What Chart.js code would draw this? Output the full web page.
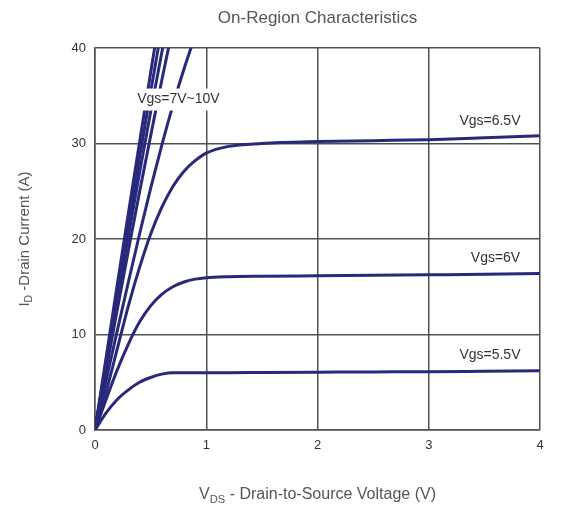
<!DOCTYPE html>
<html lang="en">
<head>
    <meta charset="UTF-8">
    <title>On-Region Characteristics</title>
    <style>
        body {
            margin: 0;
            padding: 0;
            background-color: #ffffff;
        }
        .chart-container {
            width: 563px;
            height: 511px;
        }
    </style>
</head>
<body>
    <div class="chart-container">
        <canvas id="onRegionChart"></canvas>
    </div>

    <script src="https://cdn.jsdelivr.net/npm/chart.js"></script>
    <script>
        // saturating curves (Vgs = 5.5V, 6V, 6.5V)
        const vdsSat = [0, 0.1, 0.2, 0.3, 0.4, 0.5, 0.6, 0.7, 0.8, 0.9, 1.0, 1.2, 1.5, 2, 2.5, 3, 3.5, 4];
        const id65 = [0, 4, 8.5, 13, 17, 20.5, 23.3, 25.5, 27.1, 28.2, 29, 29.7, 30.0, 30.2, 30.3, 30.4, 30.6, 30.8];
        const id60 = [0, 3.2, 6.3, 9, 11.3, 13, 14.2, 15, 15.5, 15.8, 15.95, 16.05, 16.1, 16.15, 16.2, 16.25, 16.3, 16.4];
        const id55 = [0, 1.8, 3.2, 4.2, 5, 5.5, 5.85, 6.0, 6.0, 6.0, 6.0, 6.0, 6.02, 6.05, 6.08, 6.1, 6.15, 6.2];

        // steep curves (Vgs = 7V ~ 10V)
        const vdsLin = [0, 0.1, 0.2, 0.3, 0.4, 0.5, 0.6, 0.7, 0.8, 0.9];
        const id70 = [0, 5.2, 10.4, 15.5, 20.5, 25.3, 29.8, 34, 37.8, 41.3];
        const id75 = [0, 6.3, 12.6, 18.8, 24.9, 30.8, 36.6, 42.2];
        const id80 = [0, 6.8, 13.6, 20.3, 26.9, 33.3, 39.5, 45.5];
        const id90 = [0, 7.2, 14.4, 21.5, 28.5, 35.4, 42.1];
        const id100 = [0, 7.6, 15.2, 22.7, 30.1, 37.4, 44.6];

        const xTicks = [0, 1, 2, 3, 4];
        const yTicks = [0, 10, 20, 30, 40];

        // curve labels: text, Vds, Id
        const curveLabels = [
            { text: 'Vgs=7V~10V', x: 0.75, y: 34.6, box: true },
            { text: 'Vgs=6.5V', x: 3.55, y: 32.3 },
            { text: 'Vgs=6V', x: 3.6, y: 18.0 },
            { text: 'Vgs=5.5V', x: 3.55, y: 7.85 }
        ];

        const lineColor = '#29297b';
        const gridColor = '#505050';

        function points(xs, ys) {
            return ys.map((y, i) => ({ x: xs[i], y: y }));
        }

        function curve(xs, ys) {
            return {
                data: points(xs, ys),
                borderColor: lineColor,
                borderWidth: 3,
                pointRadius: 0,
                fill: false,
                cubicInterpolationMode: 'monotone'
            };
        }

        const labelPlugin = {
            id: 'curveLabels',
            afterDatasetsDraw(chart) {
                const ctx = chart.ctx;
                const xs = chart.scales.x;
                const ys = chart.scales.y;
                ctx.save();
                ctx.font = '14px "Liberation Sans", Arial, sans-serif';
                ctx.textAlign = 'center';
                ctx.textBaseline = 'middle';
                curveLabels.forEach(l => {
                    const px = xs.getPixelForValue(l.x);
                    const py = ys.getPixelForValue(l.y);
                    if (l.box) {
                        const w = ctx.measureText(l.text).width;
                        ctx.fillStyle = '#ffffff';
                        ctx.fillRect(px - w / 2 - 3, py - 11, w + 6, 22);
                    }
                    ctx.fillStyle = '#333333';
                    ctx.fillText(l.text, px, py);
                });
                ctx.restore();
            }
        };

        function drawSubText(ctx, parts, x, y, size) {
            // parts: [text, isSub]
            let total = 0;
            parts.forEach(p => {
                ctx.font = (p[1] ? size * 0.7 : size) + 'px "Liberation Sans", Arial, sans-serif';
                total += ctx.measureText(p[0]).width;
            });
            let cx = x - total / 2;
            parts.forEach(p => {
                ctx.font = (p[1] ? size * 0.7 : size) + 'px "Liberation Sans", Arial, sans-serif';
                ctx.fillText(p[0], cx, p[1] ? y + size * 0.3 : y);
                cx += ctx.measureText(p[0]).width;
            });
        }

        const titlePlugin = {
            id: 'titles',
            afterDraw(chart) {
                const ctx = chart.ctx;
                const area = chart.chartArea;
                const midX = (area.left + area.right) / 2;
                const midY = (area.top + area.bottom) / 2;
                ctx.save();
                ctx.fillStyle = '#555555';
                ctx.textBaseline = 'middle';

                ctx.font = '17px "Liberation Sans", Arial, sans-serif';
                ctx.textAlign = 'center';
                ctx.fillText('On-Region Characteristics', midX, 18);
                ctx.textAlign = 'left';

                drawSubText(ctx, [['V', false], ['DS', true], [' - Drain-to-Source Voltage (V)', false]], midX, 495, 16);

                ctx.translate(25, midY);
                ctx.rotate(-Math.PI / 2);
                drawSubText(ctx, [['I', false], ['D', true], [' -Drain Current (A)', false]], 0, 0, 15);
                ctx.restore();
            }
        };

        const config = {
            type: 'line',
            data: {
                datasets: [
                    curve(vdsLin, id100),
                    curve(vdsLin, id90),
                    curve(vdsLin, id80),
                    curve(vdsLin, id75),
                    curve(vdsLin, id70),
                    curve(vdsSat, id65),
                    curve(vdsSat, id60),
                    curve(vdsSat, id55)
                ]
            },
            options: {
                responsive: true,
                maintainAspectRatio: false,
                animation: false,
                layout: {
                    padding: { top: 48, right: 23, left: 0, bottom: 0 }
                },
                plugins: {
                    legend: { display: false },
                    tooltip: { enabled: false }
                },
                scales: {
                    x: {
                        type: 'linear',
                        min: 0,
                        max: 4,
                        afterFit: s => { s.height = 81; },
                        afterBuildTicks: s => { s.ticks = xTicks.map(v => ({ value: v })); },
                        ticks: {
                            color: '#333333',
                            padding: 8,
                            font: { family: '"Liberation Sans", Arial, sans-serif', size: 13 }
                        },
                        grid: { color: gridColor, lineWidth: 1.5, drawTicks: false },
                        border: { color: gridColor, width: 1.5 }
                    },
                    y: {
                        type: 'linear',
                        min: 0,
                        max: 40,
                        afterFit: s => { s.width = 95; },
                        afterBuildTicks: s => { s.ticks = yTicks.map(v => ({ value: v })); },
                        ticks: {
                            color: '#333333',
                            padding: 9,
                            font: { family: '"Liberation Sans", Arial, sans-serif', size: 13 }
                        },
                        grid: { color: gridColor, lineWidth: 1.5, drawTicks: false },
                        border: { color: gridColor, width: 1.5 }
                    }
                }
            },
            plugins: [labelPlugin, titlePlugin]
        };

        window.onload = function() {
            const ctx = document.getElementById('onRegionChart').getContext('2d');
            new Chart(ctx, config);
        };
    </script>
</body>
</html>
